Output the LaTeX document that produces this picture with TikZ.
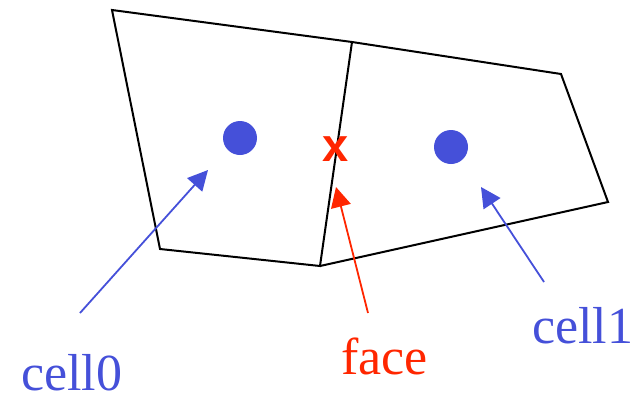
\documentclass[tikz,border=0pt]{standalone}
\usepackage{fontspec}
\setmainfont{Liberation Serif}
\newfontfamily\xfont{Liberation Sans}
\usetikzlibrary{positioning,arrows.meta}
\usepackage{xcolor}
\definecolor{meshblue}{HTML}{4550D9}
\definecolor{meshred}{HTML}{FF2600}

\begin{document}
\begin{tikzpicture}[
    x=1pt, y=-1pt,
    edge/.style={draw, line width=2pt, line join=miter},
    centroid/.style={circle, fill=meshblue, minimum size=34pt, inner sep=0pt},
    tag/.style={anchor=base west, inner sep=0pt, font=\fontsize{52}{60}\selectfont},
    pointer/.style={-{Triangle[length=20pt, width=20pt]}, line width=1.8pt},
]
\useasboundingbox (0,0) rectangle (641,394);

% Mesh vertices
\coordinate (v0) at (112,10);
\coordinate (v1) at (352,42);
\coordinate (v2) at (561,74);
\coordinate (v3) at (608,202);
\coordinate (v4) at (320,266);
\coordinate (v5) at (160,249);

% Two cells sharing the face v1--v4
\draw[edge] (v0) -- (v1) -- (v4) -- (v5) -- cycle;
\draw[edge] (v1) -- (v2) -- (v3) -- (v4);

% Cell centres and face centre
\node[centroid] (c0) at (240,138) {};
\node[centroid] (c1) at (451,147) {};
\node[text=meshred, font=\xfont\bfseries\fontsize{47}{50}\selectfont, inner sep=0pt] (fc) at (336,149) {x};

% Labels
\node[tag, text=meshblue] (l0) at (21,390) {cell0};
\node[tag, text=meshred] (lf) at (341,374) {face};
\node[tag, text=meshblue] (l1) at (532,343) {cell1};

% Pointer ends
\coordinate (p0) at (80,313);
\coordinate (t0) at (208,170);
\coordinate (pf) at (368,313);
\coordinate (tf) at (336,187);
\coordinate (p1) at (544,282);
\coordinate (t1) at (481,187);

\draw[pointer, meshblue] (p0) -- (t0);
\draw[pointer, meshred] (pf) -- (tf);
\draw[pointer, meshblue] (p1) -- (t1);

\end{tikzpicture}
\end{document}
